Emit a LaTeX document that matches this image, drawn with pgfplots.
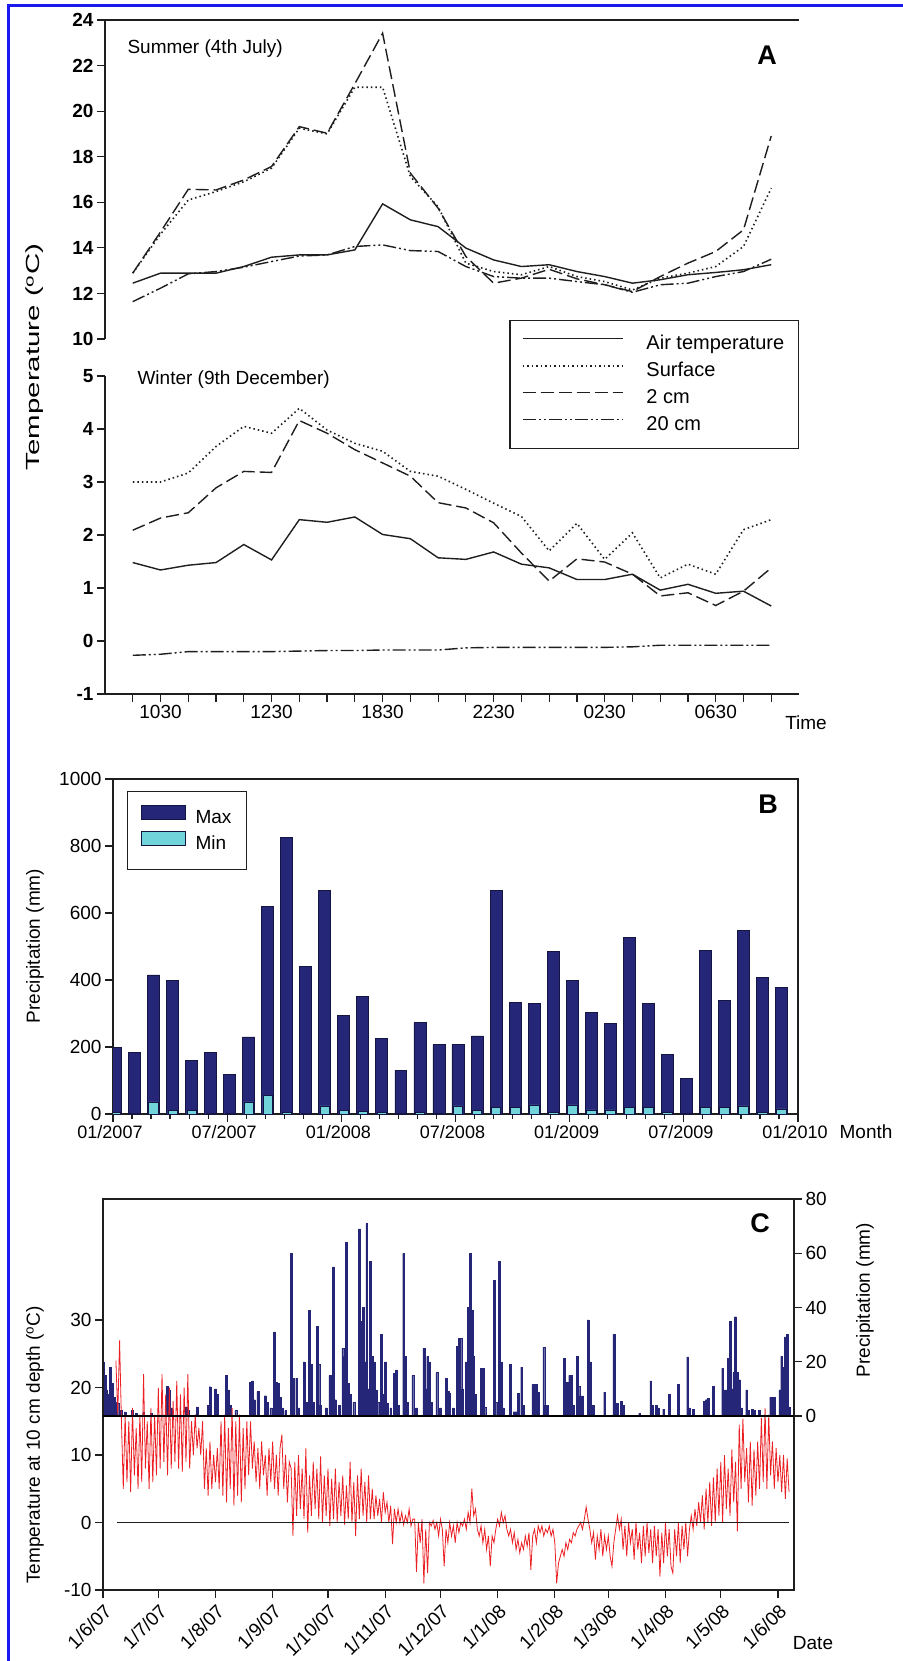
\documentclass[border=0pt]{standalone}
\usepackage{pgfplots}
\pgfplotsset{compat=1.18}
\usepackage{pgfplotstable}
\usepackage{fontspec}
\setmainfont{Liberation Sans}

\definecolor{navy}{RGB}{38,38,120}
\definecolor{minc}{RGB}{112,212,218}
\definecolor{redl}{RGB}{236,32,36}
\definecolor{lnc}{RGB}{30,30,30}
\definecolor{frameblue}{RGB}{25,25,240}

\newcommand{\fs}{\fontsize{19}{22}\selectfont}
\newcommand{\fsl}{\fontsize{20}{23}\selectfont}
\newcommand{\fsb}{\fontsize{18}{21}\selectfont}
\newcommand{\fb}{\fontsize{27}{30}\selectfont\bfseries}

\pgfplotstableread{
i air surf cm2 cm20
0 12.45 12.89 12.89 11.64
1 12.89 14.6 14.7 12.23
2 12.89 16.1 16.57 12.86
3 12.89 16.47 16.54 12.96
4 13.18 16.9 16.98 13.15
5 13.59 17.5 17.57 13.40
6 13.69 19.25 19.32 13.64
7 13.69 19.0 19.03 13.69
8 13.91 21.05 21.2 14.06
9 15.93 21.05 23.42 14.13
10 15.23 17.13 17.28 13.88
11 14.93 15.8 15.74 13.84
12 13.99 13.33 13.62 13.18
13 13.47 12.96 12.45 12.74
14 13.18 12.82 12.67 12.67
15 13.26 13.18 13.06 12.67
16 12.96 12.74 12.64 12.52
17 12.74 12.52 12.38 12.38
18 12.45 12.15 12.08 12.05
19 12.60 12.67 12.74 12.38
20 12.82 12.89 13.33 12.45
21 12.92 13.18 13.84 12.74
22 13.04 14.06 14.79 12.96
23 13.26 16.62 18.91 13.50
}\summer

\pgfplotstableread{
i air surf cm2 cm20
0 1.48 3.00 2.09 -0.27
1 1.34 3.00 2.32 -0.25
2 1.43 3.17 2.42 -0.20
3 1.48 3.67 2.89 -0.20
4 1.82 4.05 3.20 -0.20
5 1.53 3.92 3.18 -0.20
6 2.29 4.39 4.16 -0.19
7 2.24 3.98 3.92 -0.18
8 2.34 3.73 3.61 -0.18
9 2.01 3.58 3.36 -0.17
10 1.93 3.20 3.11 -0.17
11 1.57 3.11 2.61 -0.17
12 1.54 2.86 2.51 -0.13
13 1.68 2.60 2.23 -0.12
14 1.45 2.35 1.66 -0.12
15 1.38 1.70 1.13 -0.12
16 1.16 2.22 1.55 -0.12
17 1.16 1.54 1.49 -0.12
18 1.26 2.04 1.26 -0.11
19 0.96 1.19 0.85 -0.08
20 1.07 1.45 0.91 -0.08
21 0.90 1.26 0.67 -0.08
22 0.94 2.10 0.94 -0.08
23 0.66 2.29 1.38 -0.08
}\winter

\pgfplotstableread{
mx mn
200 4
185 3
415 36
398 10
160 10
185 3
118 3
230 36
620 55
825 4
440 3
667 24
295 10
352 8
225 4
130 3
272 4
207 3
207 24
233 10
667 19
332 19
330 27
484 4
400 27
302 12
270 12
527 19
330 19
177 4
107 3
488 19
340 19
548 24
408 4
378 15
}\monthly

\pgfplotstableread{
d p
0 20
1 15
2 9.6
3 8
4 18
5 12
6 7
7 5
8 4.8
10 2
12 1.5
16 2
18 1
22 1.5
26 1
35 11
36 9.6
37 3
45 3.4
46 2
51 3.4
57 4
58 10.8
61 10
62 8
67 15
68 9.6
69 4
72 2
80 12.5
81 13
82 6
84 9
88 7.5
89 5
91 3
93 31
94 12.5
95 12
96 7
97 3
99 2
102 60
103 14
105 14
106 3
109 20
110 5
112 39
113 19
114 5
116 33
117 19
118 4
121 3
123 15
125 55
126 6
128 4
130 25
131 22
132 64
133 12
134 8
136 5
139 69
140 35
141 40
142 20
143 71
144 10
145 57
146 22
147 20
148 9.6
149 5
151 30
152 8
153 20
154 4.8
156 3
158 15.7
159 17
160 4
163 60
164 22
165 5
168 15
170 3
174 25
175 10
176 22
177 20
178 5
181 16
183 3
186 14
187 9
188 8.4
190 3
192 25.8
193 28.6
194 28.6
195 10
197 20
198 40
199 60
200 39
201 22
202 8
205 17.6
206 17.6
207 3.4
212 50
213 5
215 57
216 20
217 3
221 19
223 1.6
224 1.6
225 8.4
227 18
228 4
233 11.6
234 11.6
235 11.6
236 8.8
239 25.3
240 4
241 4
250 21.3
251 12.5
252 12.5
253 15
254 15
255 4
257 22
258 11
259 7.4
260 7.4
263 35.4
264 20
265 4
266 4
272 8.8
277 30.1
278 4.7
279 4.7
281 5.3
282 4
291 1
297 13
298 4
300 4
301 3
304 2.5
307 8
312 11.6
317 21.8
318 3
320 2.5
326 5.3
327 6
328 6.5
331 11
336 17.6
337 9.6
338 9.6
339 21.3
340 34.8
341 10
342 16
343 36.6
344 16.2
345 13.4
346 3
349 9.6
350 2
352 2.5
353 2
356 2.2
362 7
363 7
364 7
367 9.6
368 22
369 18
370 29.2
371 30
372 3.4
}\rain

\pgfplotstableread[row sep=\\]{T\\
24\\16\\27\\15\\5\\16\\6\\15\\4.5\\17\\7\\14\\5\\16\\6\\22\\8\\15\\5\\17\\6\\16\\7\\
20\\8\\22\\9\\19\\7\\20\\8\\18\\9\\21\\8\\19\\7.5\\20\\9\\22\\8\\
15\\10\\16\\11\\14\\10\\15\\5\\11\\4\\12\\5\\10\\6\\11\\5\\
15\\4\\16\\3\\14\\5\\17\\2.5\\15\\4\\16\\3\\14\\5\\15\\7\\15\\8\\
12\\6\\11\\5\\12\\7\\10\\4\\11\\6\\12\\5\\10\\4\\11\\13\\5\\10\\3\\9\\
8\\-2\\9\\1\\10\\2\\8\\0.5\\11\\-1.5\\7\\1\\9\\2\\8\\0.5\\9.8\\
0\\7\\1\\8\\-0.5\\6.5\\0.5\\8\\0\\6\\1\\7\\-0.3\\5.5\\0.5\\9\\0\\6\\-2\\
7\\0.5\\8\\1\\6\\0\\7\\0.5\\5\\
0.5\\4\\1\\3.5\\0\\4.5\\1.5\\3\\0\\2.5\\-3.2\\2\\0\\
2\\0\\1.5\\-0.3\\1\\0\\2\\-0.5\\0.5\\
0.5\\-7.3\\0\\-3\\0.5\\-9\\-1\\-7.5\\0\\
-0.5\\0.3\\-1\\0\\-2\\0.5\\-1\\-6.5\\
-1\\-3\\0\\-2\\-0.5\\-3\\0\\-1.5\\
0\\-0.5\\0.5\\-1\\1.5\\0\\5\\1\\2\\-1\\
-2\\-0.5\\-3\\-1\\-4\\-2\\-6.5\\-2\\-3\\-1\\
0.5\\-0.5\\1.5\\0\\1\\-1\\
-2\\-1\\-3\\-1.5\\-4\\-2.5\\-4.5\\-3\\-4\\-2\\-3.5\\-1.5\\-7\\
-2\\-1\\-3\\-0.5\\-1.5\\-0.5\\-2\\-1\\-1.5\\-0.5\\-2\\-1\\-3\\
-9\\-6\\-5\\
-4\\-5\\-3\\-4\\-2.5\\-3\\-1.5\\-2\\-1\\-0.5\\0\\-1\\0.5\\2.3\\0.5\\
-1\\-3\\-1.5\\-5.5\\-2\\-4\\-1\\-5\\-2\\
-4\\-2\\-5\\-6.5\\-3\\-1\\
1\\-1\\0.5\\
-4\\-0.5\\-5\\0\\-3\\-1\\-5.5\\0\\-4\\-1.5\\-6\\-0.5\\-5\\0\\-4.5\\-1\\-6\\-0.5\\-5\\-1\\-8\\-1.5\\-6\\0\\-5\\-1\\-6.5\\-7.5\\-1\\-5\\0\\-6\\-0.5\\-4\\0\\-5\\-1\\
1\\-1\\2\\-0.5\\3\\0\\4\\-1\\5\\0\\6\\-0.5\\6.7\\0\\8\\
1\\9\\0\\10\\2\\8\\1\\10.8\\3\\9\\-1.3\\
14.5\\5\\15.4\\6\\
11\\3\\12\\2.5\\10.8\\4\\12\\
5\\15.5\\6\\17\\5\\16\\7\\
12\\5\\11\\6\\10\\4.5\\
10\\3.5\\9.5\\4.5\\
}\soil

\pgfplotsset{
  base/.style={
    scale only axis, anchor=south west,
    axis line style={-, lnc, line width=1.4pt},
    tick style={lnc, line width=1.2pt},
    major tick length=8pt, minor tick length=5pt,
    tick align=outside,
    ticklabel style={font=\fs},
    /pgf/number format/assume math mode=true,
    /pgf/number format/1000 sep={},
  },
  airs/.style={lnc, line width=1.4pt},
  surfs/.style={lnc, line width=1.6pt, dash pattern=on 1.5pt off 3pt},
  cmtwo/.style={lnc, line width=1.4pt, dash pattern=on 13pt off 5pt},
  cmtwenty/.style={lnc, line width=1.4pt, dash pattern=on 13pt off 3pt on 2pt off 3pt on 2pt off 3pt},
}

\begin{document}
\begin{tikzpicture}
\useasboundingbox (0,0) rectangle (902pt,-1661pt);
\fill[white] (0,0) rectangle (902pt,-1661pt);
\draw[frameblue, line width=3pt] (8pt,-1662pt) -- (8pt,-6pt) -- (903pt,-6pt);

% ---------- Panel A summer
\begin{axis}[base, at={(105pt,-339pt)}, width=694pt, height=319pt,
  xmin=-1, xmax=24, ymin=10, ymax=24,
  axis x line*=top, axis y line*=left,
  xtick=\empty, ytick={10,12,...,24},
  yticklabel style={font=\fs\bfseries}]
\addplot[airs] table[x=i, y=air]{\summer};
\addplot[surfs] table[x=i, y=surf]{\summer};
\addplot[cmtwo] table[x=i, y=cm2]{\summer};
\addplot[cmtwenty] table[x=i, y=cm20]{\summer};
\end{axis}

% ---------- Panel A winter
\begin{axis}[base, at={(105pt,-694pt)}, width=694pt, height=318pt,
  xmin=-1, xmax=24, ymin=-1, ymax=5,
  axis x line*=bottom, axis y line*=left,
  xtick={0,...,23},
  xticklabels={,1030,,,,1230,,,,1830,,,,2230,,,,0230,,,,0630,,},
  ytick={-1,0,...,5},
  yticklabel style={font=\fs\bfseries},
  legend style={at={(1,1.176)}, anchor=north east, draw=lnc, line width=1.4pt,
    font=\fsl, inner xsep=12pt, inner ysep=11pt, row sep=2.5pt, column sep=21pt,
    nodes={inner sep=2pt, text height=13.5pt, text depth=4.5pt}},
  legend cell align=left,
  legend image code/.code={\path[draw=none, fill=none] (0pt,-4.5pt) rectangle (100pt,13.5pt);
    \draw[#1] (0pt,6.5pt) -- (100pt,6.5pt);}]
\addplot[airs] table[x=i, y=air]{\winter};
\addlegendentry{Air temperature}
\addplot[surfs] table[x=i, y=surf]{\winter};
\addlegendentry{Surface}
\addplot[cmtwo] table[x=i, y=cm2]{\winter};
\addlegendentry{2 cm}
\addplot[cmtwenty] table[x=i, y=cm20]{\winter};
\addlegendentry{20 cm}
\end{axis}

% ---------- Panel B
\begin{axis}[base, at={(113pt,-1114pt)}, width=685pt, height=335pt,
  xmin=0, xmax=36, ymin=0, ymax=1000,
  tick pos=left,
  xtick={0,6,...,36},
  xticklabels={01/2007,07/2007,01/2008,07/2008,01/2009,07/2009,01/2010},
  xticklabel style={font=\fsb, xshift=-3pt},
  minor xtick={0,...,36},
  ytick={0,200,...,1000},
  legend style={at={(0.0204,0.964)}, anchor=north west, draw=lnc, line width=1.4pt,
    font=\fs, inner xsep=13pt, inner ysep=13pt, row sep=1pt, column sep=8pt,
    nodes={inner sep=2pt, text height=13.5pt, text depth=4.5pt}},
  legend cell align=left,
  legend image code/.code={\path[draw=none, fill=none] (0pt,-4.5pt) rectangle (44pt,13.5pt);
    \draw[#1, line width=0.9pt] (0pt,-0.3pt) rectangle (44pt,13.8pt);}]
\addplot[ybar, bar width=0.63, bar shift=0pt, fill=navy, draw=navy!55!black, line width=0.8pt]
  table[x expr=\coordindex+0.13, y=mx]{\monthly};
\addlegendentry{Max}
\addplot[ybar, bar width=0.5, bar shift=0pt, fill=minc, draw=navy!55!black, line width=0.6pt]
  table[x expr=\coordindex+0.13, y=mn]{\monthly};
\addlegendentry{Min}
\end{axis}

% ---------- Panel C precipitation (right axis)
\begin{axis}[base, at={(103pt,-1590pt)}, width=691pt, height=391pt,
  xmin=0, xmax=374.7, ymin=-64.147, ymax=80,
  axis y line*=right, axis x line=none, xtick=\empty,
  ytick={0,20,...,80}]
\addplot[ybar, bar width=1, bar shift=0pt, fill=navy, draw=navy, line width=0.3pt]
  table[x=d, y=p]{\rain};
\end{axis}

% ---------- Panel C temperature (left axis)
\begin{axis}[base, at={(103pt,-1590pt)}, width=691pt, height=391pt,
  xmin=0, xmax=374.7, ymin=-10, ymax=47.926,
  tick pos=left,
  xtick={0,30,61,92,122,153,183,214,245,274,305,335,366},
  xticklabels={1/6/07,1/7/07,1/8/07,1/9/07,1/10/07,1/11/07,1/12/07,1/1/08,1/2/08,1/3/08,1/4/08,1/5/08,1/6/08},
  xticklabel style={rotate=45, anchor=north east},
  ytick={-10,0,...,30}]
\addplot[redl, line width=0.8pt] table[x expr=\coordindex+7, y=T]{\soil};
\addplot[lnc, line width=1.2pt] coordinates {(7.5,0) (372,0)};
\addplot[black, line width=1.6pt] coordinates {(0,15.78) (374.7,15.78)};
\end{axis}

% ---------- texts
\node[font=\fs, anchor=west] at (124pt,-49pt) {Summer (4th July)};
\node[font=\fs, anchor=west] at (134pt,-380pt) {Winter (9th December)};
\node[font=\fb] at (767pt,-55pt) {A};
\node[font=\fs, rotate=90] at (35pt,-357pt) {\scalebox{1.55}[1]{Temperature (\textsuperscript{o}C)}};
\node[font=\fs] at (806pt,-723pt) {Time};
\node[font=\fb] at (768pt,-804pt) {B};
\node[font=\fs, rotate=90] at (35pt,-946pt) {Precipitation (mm)};
\node[font=\fs] at (866pt,-1132pt) {Month};
\node[font=\fb] at (760pt,-1223pt) {C};
\node[font=\fs, rotate=90] at (35pt,-1445pt) {Temperature at 10 cm depth (\textsuperscript{o}C)};
\node[font=\fs, rotate=90] at (865pt,-1300pt) {Precipitation (mm)};
\node[font=\fs] at (813pt,-1643pt) {Date};
\end{tikzpicture}
\end{document}
